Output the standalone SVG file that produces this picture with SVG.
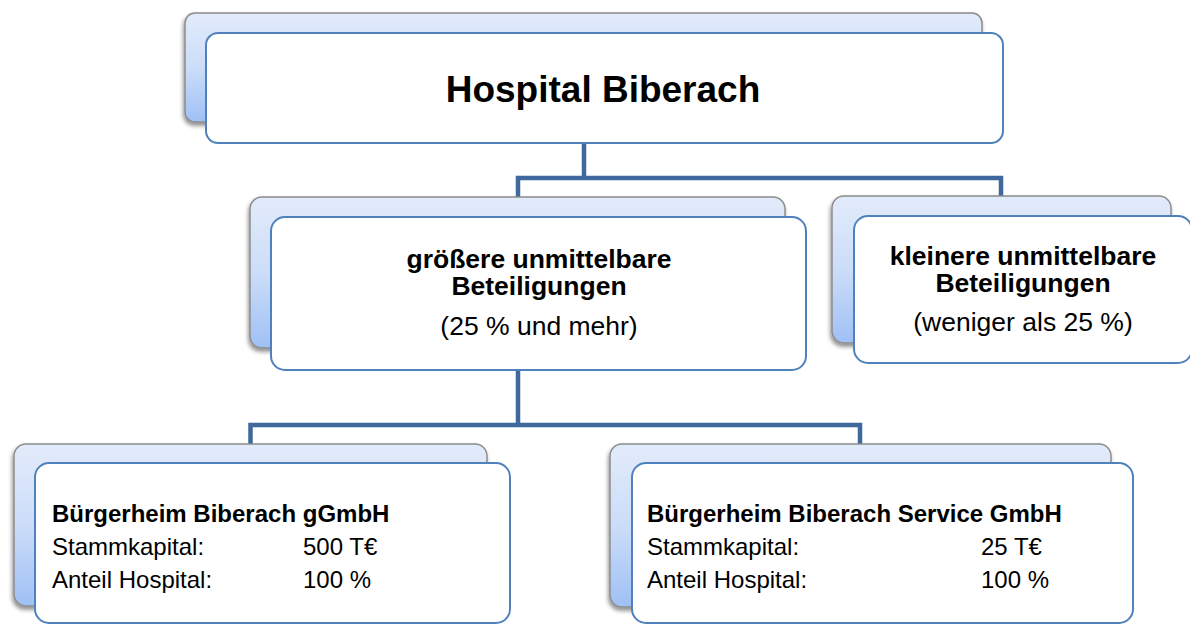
<svg xmlns="http://www.w3.org/2000/svg" width="1190" height="625" viewBox="0 0 1190 625">
<defs>
<linearGradient id="bg" x1="0" y1="0" x2="0" y2="1">
<stop offset="0" stop-color="#E2EBFA"/>
<stop offset="0.5" stop-color="#CCDDF9"/>
<stop offset="1" stop-color="#9FC0F5"/>
</linearGradient>
<filter id="sh" x="-5%" y="-5%" width="110%" height="115%">
<feGaussianBlur in="SourceAlpha" stdDeviation="2"/>
<feOffset dx="-1" dy="3" result="b"/>
<feComponentTransfer><feFuncA type="linear" slope="0.45"/></feComponentTransfer>
<feMerge><feMergeNode/><feMergeNode in="SourceGraphic"/></feMerge>
</filter>
<style>
.back{fill:url(#bg);stroke:#8C8C8C;stroke-width:1.5;filter:url(#sh)}
.front{fill:#FFFFFF;stroke:#4F81BD;stroke-width:2}
.conn{fill:none;stroke:#3F699D;stroke-width:4.5;stroke-linejoin:miter}
.b{font-family:"Liberation Sans",Arial,sans-serif;font-weight:bold;fill:#000}
.r{font-family:"Liberation Sans",Arial,sans-serif;fill:#000}
</style>
</defs>
<rect width="1190" height="625" fill="#FFFFFF"/>
<g id="connectors">
<path class="conn" d="M584 143 V178 M518 197 V178 H1001 V196"/>
<path class="conn" d="M518 370 V425 M250.5 444 V425 H860 V444"/>
</g>
<g id="hospital">
<rect class="back" x="185" y="13" width="797" height="109" rx="10"/>
<rect class="front" x="206" y="33" width="797" height="110" rx="12"/>
<text class="b" x="603" y="102" font-size="37" text-anchor="middle">Hospital Biberach</text>
</g>
<g id="groessere">
<rect class="back" x="250" y="197" width="535" height="151" rx="12"/>
<rect class="front" x="271" y="217" width="535" height="153" rx="14"/>
<text class="b" x="539" y="268" font-size="26.5" text-anchor="middle">größere unmittelbare</text>
<text class="b" x="539" y="295" font-size="26.5" text-anchor="middle">Beteiligungen</text>
<text class="r" x="539" y="335" font-size="26.5" text-anchor="middle">(25 % und mehr)</text>
</g>
<g id="kleinere">
<rect class="back" x="832" y="196" width="339" height="147" rx="12"/>
<rect class="front" x="854" y="216" width="338" height="147" rx="14"/>
<text class="b" x="1023" y="265" font-size="26.5" text-anchor="middle">kleinere unmittelbare</text>
<text class="b" x="1023" y="292" font-size="26.5" text-anchor="middle">Beteiligungen</text>
<text class="r" x="1023" y="331" font-size="26.5" text-anchor="middle">(weniger als 25 %)</text>
</g>
<g id="buergerheim">
<rect class="back" x="14" y="444" width="473" height="162" rx="12"/>
<rect class="front" x="35" y="463" width="475" height="160" rx="14"/>
<text class="b" x="52" y="522" font-size="24">Bürgerheim Biberach gGmbH</text>
<text class="r" x="52" y="555" font-size="24">Stammkapital:</text>
<text class="r" x="303" y="555" font-size="24">500 T€</text>
<text class="r" x="52" y="588" font-size="24">Anteil Hospital:</text>
<text class="r" x="303" y="588" font-size="24">100 %</text>
</g>
<g id="service">
<rect class="back" x="610" y="444" width="501" height="163" rx="12"/>
<rect class="front" x="632" y="463" width="501" height="160" rx="14"/>
<text class="b" x="647" y="522" font-size="24">Bürgerheim Biberach Service GmbH</text>
<text class="r" x="647" y="555" font-size="24">Stammkapital:</text>
<text class="r" x="981" y="555" font-size="24">25 T€</text>
<text class="r" x="647" y="588" font-size="24">Anteil Hospital:</text>
<text class="r" x="981" y="588" font-size="24">100 %</text>
</g>
</svg>
